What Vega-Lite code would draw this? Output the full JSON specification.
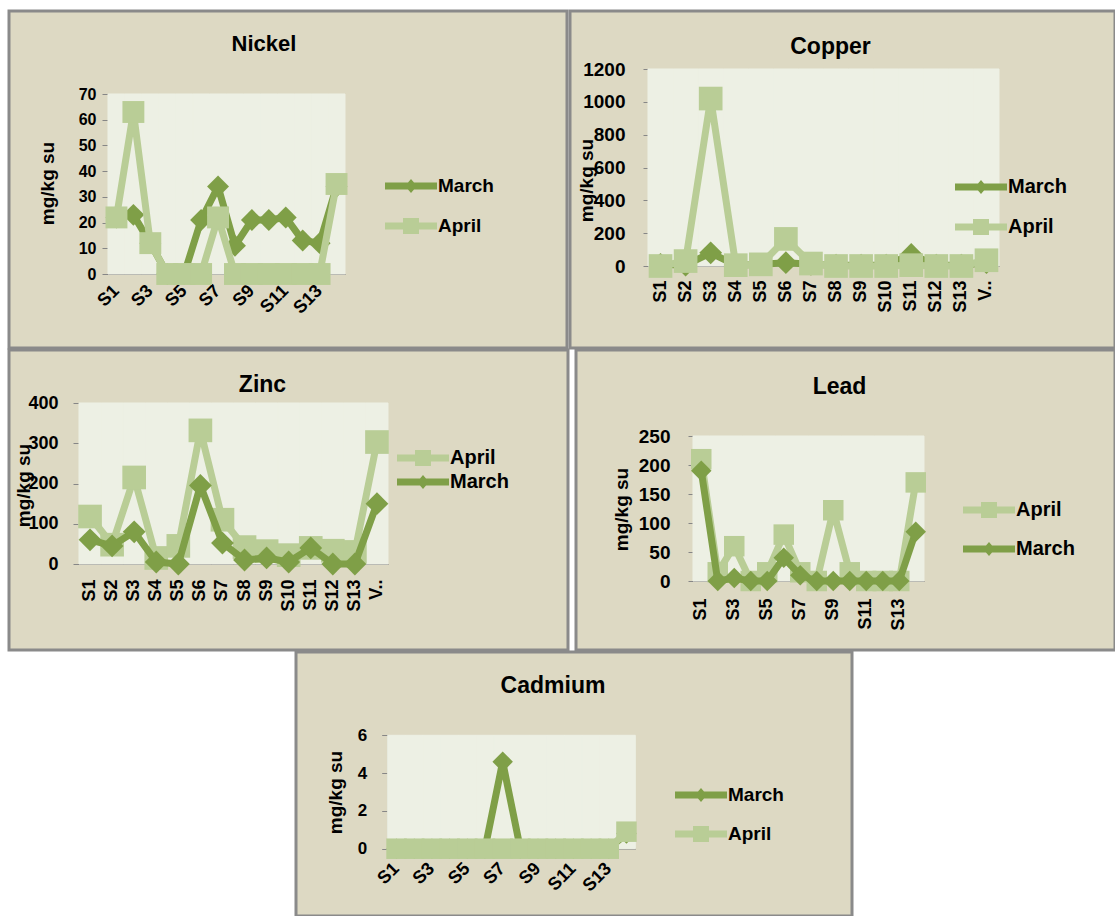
{
  "$schema": "https://vega.github.io/schema/vega-lite/v6.json",
  "background": "#FFFFFF",
  "padding": {"left": 7, "top": 9, "right": 0, "bottom": 0},
  "autosize": {"type": "pad"},
  "spacing": -2,
  "resolve": {"scale": {"color": "independent", "shape": "independent"}, "legend": {"color": "independent", "shape": "independent"}},
  "datasets": {
    "nickel": [
      {"station":"S1","month":"March","value":22},{"station":"S2","month":"March","value":23},{"station":"S3","month":"March","value":12},{"station":"S4","month":"March","value":0},{"station":"S5","month":"March","value":0},{"station":"S6","month":"March","value":21},{"station":"S7","month":"March","value":34},{"station":"S8","month":"March","value":11},{"station":"S9","month":"March","value":21},{"station":"S10","month":"March","value":21},{"station":"S11","month":"March","value":22},{"station":"S12","month":"March","value":13},{"station":"S13","month":"March","value":12},{"station":"V..","month":"March","value":34},
      {"station":"S1","month":"April","value":22},{"station":"S2","month":"April","value":63},{"station":"S3","month":"April","value":12},{"station":"S4","month":"April","value":0},{"station":"S5","month":"April","value":0},{"station":"S6","month":"April","value":0},{"station":"S7","month":"April","value":22},{"station":"S8","month":"April","value":0},{"station":"S9","month":"April","value":0},{"station":"S10","month":"April","value":0},{"station":"S11","month":"April","value":0},{"station":"S12","month":"April","value":0},{"station":"S13","month":"April","value":0},{"station":"V..","month":"April","value":35}
    ],
    "copper": [
      {"station":"S1","month":"March","value":10},{"station":"S2","month":"March","value":5},{"station":"S3","month":"March","value":80},{"station":"S4","month":"March","value":5},{"station":"S5","month":"March","value":10},{"station":"S6","month":"March","value":20},{"station":"S7","month":"March","value":10},{"station":"S8","month":"March","value":5},{"station":"S9","month":"March","value":5},{"station":"S10","month":"March","value":5},{"station":"S11","month":"March","value":70},{"station":"S12","month":"March","value":5},{"station":"S13","month":"March","value":5},{"station":"V..","month":"March","value":20},
      {"station":"S1","month":"April","value":0},{"station":"S2","month":"April","value":30},{"station":"S3","month":"April","value":1020},{"station":"S4","month":"April","value":5},{"station":"S5","month":"April","value":10},{"station":"S6","month":"April","value":165},{"station":"S7","month":"April","value":15},{"station":"S8","month":"April","value":0},{"station":"S9","month":"April","value":0},{"station":"S10","month":"April","value":0},{"station":"S11","month":"April","value":5},{"station":"S12","month":"April","value":0},{"station":"S13","month":"April","value":0},{"station":"V..","month":"April","value":35}
    ],
    "zinc": [
      {"station":"S1","month":"April","value":118},{"station":"S2","month":"April","value":48},{"station":"S3","month":"April","value":215},{"station":"S4","month":"April","value":15},{"station":"S5","month":"April","value":45},{"station":"S6","month":"April","value":332},{"station":"S7","month":"April","value":110},{"station":"S8","month":"April","value":42},{"station":"S9","month":"April","value":32},{"station":"S10","month":"April","value":22},{"station":"S11","month":"April","value":40},{"station":"S12","month":"April","value":33},{"station":"S13","month":"April","value":30},{"station":"V..","month":"April","value":303},
      {"station":"S1","month":"March","value":60},{"station":"S2","month":"March","value":45},{"station":"S3","month":"March","value":80},{"station":"S4","month":"March","value":5},{"station":"S5","month":"March","value":0},{"station":"S6","month":"March","value":195},{"station":"S7","month":"March","value":52},{"station":"S8","month":"March","value":10},{"station":"S9","month":"March","value":15},{"station":"S10","month":"March","value":5},{"station":"S11","month":"March","value":40},{"station":"S12","month":"March","value":0},{"station":"S13","month":"March","value":0},{"station":"V..","month":"March","value":150}
    ],
    "lead": [
      {"station":"S1","month":"April","value":210},{"station":"S2","month":"April","value":15},{"station":"S3","month":"April","value":60},{"station":"S4","month":"April","value":0},{"station":"S5","month":"April","value":15},{"station":"S6","month":"April","value":80},{"station":"S7","month":"April","value":15},{"station":"S8","month":"April","value":0},{"station":"S9","month":"April","value":122},{"station":"S10","month":"April","value":15},{"station":"S11","month":"April","value":0},{"station":"S12","month":"April","value":0},{"station":"S13","month":"April","value":0},{"station":"V..","month":"April","value":170},
      {"station":"S1","month":"March","value":190},{"station":"S2","month":"March","value":0},{"station":"S3","month":"March","value":5},{"station":"S4","month":"March","value":0},{"station":"S5","month":"March","value":0},{"station":"S6","month":"March","value":40},{"station":"S7","month":"March","value":10},{"station":"S8","month":"March","value":0},{"station":"S9","month":"March","value":0},{"station":"S10","month":"March","value":0},{"station":"S11","month":"March","value":0},{"station":"S12","month":"March","value":0},{"station":"S13","month":"March","value":0},{"station":"V..","month":"March","value":85}
    ],
    "cadmium": [
      {"station":"S1","month":"March","value":0},{"station":"S2","month":"March","value":0},{"station":"S3","month":"March","value":0},{"station":"S4","month":"March","value":0},{"station":"S5","month":"March","value":0},{"station":"S6","month":"March","value":0},{"station":"S7","month":"March","value":4.6},{"station":"S8","month":"March","value":0},{"station":"S9","month":"March","value":0},{"station":"S10","month":"March","value":0},{"station":"S11","month":"March","value":0},{"station":"S12","month":"March","value":0},{"station":"S13","month":"March","value":0},{"station":"V..","month":"March","value":0.8},
      {"station":"S1","month":"April","value":0},{"station":"S2","month":"April","value":0},{"station":"S3","month":"April","value":0},{"station":"S4","month":"April","value":0},{"station":"S5","month":"April","value":0},{"station":"S6","month":"April","value":0},{"station":"S7","month":"April","value":0},{"station":"S8","month":"April","value":0},{"station":"S9","month":"April","value":0},{"station":"S10","month":"April","value":0},{"station":"S11","month":"April","value":0},{"station":"S12","month":"April","value":0},{"station":"S13","month":"April","value":0},{"station":"V..","month":"April","value":0.9}
    ]
  },
  "vconcat": [
    {
      "spacing": 3,
      "bounds": "flush",
      "resolve": {"scale": {"color": "independent", "shape": "independent"}, "legend": {"color": "independent", "shape": "independent"}},
      "hconcat": [
        {
          "width": 558, "height": 337,
          "title": {"text": "Nickel", "frame": "group", "anchor": "middle", "dx": -24, "offset": -45, "fontSize": 22},
          "data": {"name": "nickel"},
          "encoding": {
            "x": {"field": "station", "type": "nominal", "sort": ["S1","S2","S3","S4","S5","S6","S7","S8","S9","S10","S11","S12","S13","V.."],
              "scale": {"type": "band", "range": [99, 336], "paddingInner": 0, "paddingOuter": 0},
              "axis": {"title": null, "ticks": false, "tickSize": 0, "offset": -74, "values": ["S1","S3","S5","S7","S9","S11","S13"], "labelAngle": -45, "labelAlign": "right", "labelBaseline": "middle", "labelFontSize": 18, "labelPadding": 14}},
            "y": {"field": "value", "type": "quantitative", "title": "mg/kg su",
              "scale": {"domain": [0, 70], "range": [263, 83], "nice": false, "zero": false},
              "axis": {"offset": -99, "values": [0,10,20,30,40,50,60,70], "format": "d", "tickSize": 6, "labelPadding": 6, "labelFontSize": 16, "titleFontSize": 19, "titleX": -61, "titleY": 172, "titleAngle": -90, "titleAlign": "center", "titleBaseline": "middle"}}
          },
          "layer": [
            {"transform": [{"filter": "datum.month === 'March'"}], "mark": {"type": "bar", "color": "#EDF0E4", "stroke": "#EDF0E4", "strokeWidth": 1}, "encoding": {"y": {"datum": 70, "type": "quantitative", "title": "mg/kg su"}, "y2": {"datum": 0}}},
            {"transform": [{"filter": "datum.month === 'March'"}], "mark": {"type": "line", "color": "#7F9F47", "strokeWidth": 7, "strokeJoin": "round", "strokeCap": "round"}},
            {"transform": [{"filter": "datum.month === 'March'"}], "mark": {"type": "point", "shape": "diamond", "filled": true, "size": 480, "opacity": 1, "color": "#7F9F47"}},
            {"transform": [{"filter": "datum.month === 'April'"}], "mark": {"type": "line", "color": "#B9CD96", "strokeWidth": 7, "strokeJoin": "round", "strokeCap": "round"}},
            {"transform": [{"filter": "datum.month === 'April'"}], "mark": {"type": "point", "shape": "square", "filled": true, "size": 480, "opacity": 1, "color": "#B9CD96"}},
            {"mark": {"type": "point", "filled": true, "opacity": 0},
              "encoding": {
                "color": {"field": "month", "type": "nominal", "scale": {"domain": ["March","April"], "range": ["#7F9F47","#B9CD96"]},
                  "legend": {"orient": "none", "legendX": 392, "legendY": 165, "title": null, "padding": 0, "symbolSize": 400, "symbolOpacity": 1, "symbolStrokeWidth": 0, "labelOffset": 17, "rowPadding": 20, "labelFontSize": 19, "labelFontWeight": "bold", "labelColor": "#000000", "labelFont": "Liberation Sans"}},
                "shape": {"field": "month", "type": "nominal", "scale": {"domain": ["March","April"], "range": ["M-2.6,-0.35L2.6,-0.35L2.6,0.35L-2.6,0.35Z M0,-0.7L0.6,0L0,0.7L-0.6,0Z", "M-2.6,-0.35L2.6,-0.35L2.6,0.35L-2.6,0.35Z M-0.8,-0.8L0.8,-0.8L0.8,0.8L-0.8,0.8Z"]},
                  "legend": {"orient": "none", "legendX": 392, "legendY": 165, "title": null, "padding": 0, "symbolSize": 400, "symbolOpacity": 1, "symbolStrokeWidth": 0, "labelOffset": 17, "rowPadding": 20, "labelFontSize": 19, "labelFontWeight": "bold", "labelColor": "#000000", "labelFont": "Liberation Sans"}}
              }}
          ]
        },
        {
          "width": 545, "height": 337,
          "title": {"text": "Copper", "frame": "group", "anchor": "middle", "dx": -12, "offset": -48, "fontSize": 23},
          "data": {"name": "copper"},
          "encoding": {
            "x": {"field": "station", "type": "nominal", "sort": ["S1","S2","S3","S4","S5","S6","S7","S8","S9","S10","S11","S12","S13","V.."],
              "scale": {"type": "band", "range": [78, 429], "paddingInner": 0, "paddingOuter": 0},
              "axis": {"title": null, "ticks": false, "tickSize": 0, "offset": -82, "labelAngle": -90, "labelAlign": "right", "labelBaseline": "middle", "labelFontSize": 18, "labelPadding": 14}},
            "y": {"field": "value", "type": "quantitative", "title": "mg/kg su",
              "scale": {"domain": [0, 1200], "range": [255, 58], "nice": false, "zero": false},
              "axis": {"offset": -78, "values": [0,200,400,600,800,1000,1200], "format": "d", "tickSize": 5, "labelPadding": 18, "labelFontSize": 19, "titleFontSize": 19, "titleX": -62, "titleY": 169, "titleAngle": -90, "titleAlign": "center", "titleBaseline": "middle"}}
          },
          "layer": [
            {"transform": [{"filter": "datum.month === 'March'"}], "mark": {"type": "bar", "color": "#EDF0E4", "stroke": "#EDF0E4", "strokeWidth": 1}, "encoding": {"y": {"datum": 1200, "type": "quantitative", "title": "mg/kg su"}, "y2": {"datum": 0}}},
            {"transform": [{"filter": "datum.month === 'March'"}], "mark": {"type": "line", "color": "#7F9F47", "strokeWidth": 7, "strokeJoin": "round", "strokeCap": "round"}},
            {"transform": [{"filter": "datum.month === 'March'"}], "mark": {"type": "point", "shape": "diamond", "filled": true, "size": 520, "opacity": 1, "color": "#7F9F47"}},
            {"transform": [{"filter": "datum.month === 'April'"}], "mark": {"type": "line", "color": "#B9CD96", "strokeWidth": 7, "strokeJoin": "round", "strokeCap": "round"}},
            {"transform": [{"filter": "datum.month === 'April'"}], "mark": {"type": "point", "shape": "square", "filled": true, "size": 560, "opacity": 1, "color": "#B9CD96"}},
            {"mark": {"type": "point", "filled": true, "opacity": 0},
              "encoding": {
                "color": {"field": "month", "type": "nominal", "scale": {"domain": ["March","April"], "range": ["#7F9F47","#B9CD96"]},
                  "legend": {"orient": "none", "legendX": 401, "legendY": 166, "title": null, "padding": 0, "symbolSize": 400, "symbolOpacity": 1, "symbolStrokeWidth": 0, "labelOffset": 17, "rowPadding": 20, "labelFontSize": 20, "labelFontWeight": "bold", "labelColor": "#000000", "labelFont": "Liberation Sans"}},
                "shape": {"field": "month", "type": "nominal", "scale": {"domain": ["March","April"], "range": ["M-2.6,-0.35L2.6,-0.35L2.6,0.35L-2.6,0.35Z M0,-0.7L0.6,0L0,0.7L-0.6,0Z", "M-2.6,-0.35L2.6,-0.35L2.6,0.35L-2.6,0.35Z M-0.8,-0.8L0.8,-0.8L0.8,0.8L-0.8,0.8Z"]},
                  "legend": {"orient": "none", "legendX": 401, "legendY": 166, "title": null, "padding": 0, "symbolSize": 400, "symbolOpacity": 1, "symbolStrokeWidth": 0, "labelOffset": 17, "rowPadding": 20, "labelFontSize": 20, "labelFontWeight": "bold", "labelColor": "#000000", "labelFont": "Liberation Sans"}}
              }}
          ]
        }
      ]
    },
    {
      "spacing": 8,
      "bounds": "flush",
      "resolve": {"scale": {"color": "independent", "shape": "independent"}, "legend": {"color": "independent", "shape": "independent"}},
      "hconcat": [
        {
          "width": 559, "height": 300,
          "title": {"text": "Zinc", "frame": "group", "anchor": "middle", "dx": -26, "offset": -47, "fontSize": 23},
          "data": {"name": "zinc"},
          "encoding": {
            "x": {"field": "station", "type": "nominal", "sort": ["S1","S2","S3","S4","S5","S6","S7","S8","S9","S10","S11","S12","S13","V.."],
              "scale": {"type": "band", "range": [70, 379], "paddingInner": 0, "paddingOuter": 0},
              "axis": {"title": null, "ticks": false, "tickSize": 0, "offset": -86, "labelAngle": -90, "labelAlign": "right", "labelBaseline": "middle", "labelFontSize": 18, "labelPadding": 15}},
            "y": {"field": "value", "type": "quantitative", "title": "mg/kg su",
              "scale": {"domain": [0, 400], "range": [214, 53], "nice": false, "zero": false},
              "axis": {"offset": -70, "values": [0,100,200,300,400], "format": "d", "tickSize": 6, "labelPadding": 15, "labelFontSize": 18, "titleFontSize": 19, "titleX": -56, "titleY": 135, "titleAngle": -90, "titleAlign": "center", "titleBaseline": "middle"}}
          },
          "layer": [
            {"transform": [{"filter": "datum.month === 'March'"}], "mark": {"type": "bar", "color": "#EDF0E4", "stroke": "#EDF0E4", "strokeWidth": 1}, "encoding": {"y": {"datum": 400, "type": "quantitative", "title": "mg/kg su"}, "y2": {"datum": 0}}},
            {"transform": [{"filter": "datum.month === 'April'"}], "mark": {"type": "line", "color": "#B9CD96", "strokeWidth": 7, "strokeJoin": "round", "strokeCap": "round"}},
            {"transform": [{"filter": "datum.month === 'April'"}], "mark": {"type": "point", "shape": "square", "filled": true, "size": 560, "opacity": 1, "color": "#B9CD96"}},
            {"transform": [{"filter": "datum.month === 'March'"}], "mark": {"type": "line", "color": "#7F9F47", "strokeWidth": 7, "strokeJoin": "round", "strokeCap": "round"}},
            {"transform": [{"filter": "datum.month === 'March'"}], "mark": {"type": "point", "shape": "diamond", "filled": true, "size": 520, "opacity": 1, "color": "#7F9F47"}},
            {"mark": {"type": "point", "filled": true, "opacity": 0},
              "encoding": {
                "color": {"field": "month", "type": "nominal", "scale": {"domain": ["April","March"], "range": ["#B9CD96","#7F9F47"]},
                  "legend": {"orient": "none", "legendX": 404, "legendY": 98, "title": null, "padding": 0, "symbolSize": 400, "symbolOpacity": 1, "symbolStrokeWidth": 0, "labelOffset": 17, "rowPadding": 4, "labelFontSize": 20, "labelFontWeight": "bold", "labelColor": "#000000", "labelFont": "Liberation Sans"}},
                "shape": {"field": "month", "type": "nominal", "scale": {"domain": ["April","March"], "range": ["M-2.6,-0.35L2.6,-0.35L2.6,0.35L-2.6,0.35Z M-0.8,-0.8L0.8,-0.8L0.8,0.8L-0.8,0.8Z", "M-2.6,-0.35L2.6,-0.35L2.6,0.35L-2.6,0.35Z M0,-0.7L0.6,0L0,0.7L-0.6,0Z"]},
                  "legend": {"orient": "none", "legendX": 404, "legendY": 98, "title": null, "padding": 0, "symbolSize": 400, "symbolOpacity": 1, "symbolStrokeWidth": 0, "labelOffset": 17, "rowPadding": 4, "labelFontSize": 20, "labelFontWeight": "bold", "labelColor": "#000000", "labelFont": "Liberation Sans"}}
              }}
          ]
        },
        {
          "width": 539, "height": 300,
          "title": {"text": "Lead", "frame": "group", "anchor": "middle", "dx": -6, "offset": -49, "fontSize": 23},
          "data": {"name": "lead"},
          "encoding": {
            "x": {"field": "station", "type": "nominal", "sort": ["S1","S2","S3","S4","S5","S6","S7","S8","S9","S10","S11","S12","S13","V.."],
              "scale": {"type": "band", "range": [117, 348], "paddingInner": 0, "paddingOuter": 0},
              "axis": {"title": null, "ticks": false, "tickSize": 0, "offset": -69, "values": ["S1","S3","S5","S7","S9","S11","S13"], "labelAngle": -90, "labelAlign": "right", "labelBaseline": "middle", "labelFontSize": 18, "labelPadding": 17}},
            "y": {"field": "value", "type": "quantitative", "title": "mg/kg su",
              "scale": {"domain": [0, 250], "range": [231, 86], "nice": false, "zero": false},
              "axis": {"offset": -117, "values": [0,50,100,150,200,250], "format": "d", "tickSize": 5, "labelPadding": 18, "labelFontSize": 19, "titleFontSize": 19, "titleX": -72, "titleY": 159, "titleAngle": -90, "titleAlign": "center", "titleBaseline": "middle"}}
          },
          "layer": [
            {"transform": [{"filter": "datum.month === 'March'"}], "mark": {"type": "bar", "color": "#EDF0E4", "stroke": "#EDF0E4", "strokeWidth": 1}, "encoding": {"y": {"datum": 250, "type": "quantitative", "title": "mg/kg su"}, "y2": {"datum": 0}}},
            {"transform": [{"filter": "datum.month === 'April'"}], "mark": {"type": "line", "color": "#B9CD96", "strokeWidth": 7, "strokeJoin": "round", "strokeCap": "round"}},
            {"transform": [{"filter": "datum.month === 'April'"}], "mark": {"type": "point", "shape": "square", "filled": true, "size": 420, "opacity": 1, "color": "#B9CD96"}},
            {"transform": [{"filter": "datum.month === 'March'"}], "mark": {"type": "line", "color": "#7F9F47", "strokeWidth": 7, "strokeJoin": "round", "strokeCap": "round"}},
            {"transform": [{"filter": "datum.month === 'March'"}], "mark": {"type": "point", "shape": "diamond", "filled": true, "size": 420, "opacity": 1, "color": "#7F9F47"}},
            {"mark": {"type": "point", "filled": true, "opacity": 0},
              "encoding": {
                "color": {"field": "month", "type": "nominal", "scale": {"domain": ["April","March"], "range": ["#B9CD96","#7F9F47"]},
                  "legend": {"orient": "none", "legendX": 403, "legendY": 150, "title": null, "padding": 0, "symbolSize": 400, "symbolOpacity": 1, "symbolStrokeWidth": 0, "labelOffset": 17, "rowPadding": 19, "labelFontSize": 20, "labelFontWeight": "bold", "labelColor": "#000000", "labelFont": "Liberation Sans"}},
                "shape": {"field": "month", "type": "nominal", "scale": {"domain": ["April","March"], "range": ["M-2.6,-0.35L2.6,-0.35L2.6,0.35L-2.6,0.35Z M-0.8,-0.8L0.8,-0.8L0.8,0.8L-0.8,0.8Z", "M-2.6,-0.35L2.6,-0.35L2.6,0.35L-2.6,0.35Z M0,-0.7L0.6,0L0,0.7L-0.6,0Z"]},
                  "legend": {"orient": "none", "legendX": 403, "legendY": 150, "title": null, "padding": 0, "symbolSize": 400, "symbolOpacity": 1, "symbolStrokeWidth": 0, "labelOffset": 17, "rowPadding": 19, "labelFontSize": 20, "labelFontWeight": "bold", "labelColor": "#000000", "labelFont": "Liberation Sans"}}
              }}
          ]
        }
      ]
    },
    {
      "spacing": 7,
      "bounds": "flush",
      "resolve": {"scale": {"color": "independent", "shape": "independent"}, "legend": {"color": "independent", "shape": "independent"}},
      "hconcat": [
        {"width": 280, "height": 264, "data": {"values": []}, "mark": "point", "view": {"fill": "transparent", "stroke": "transparent", "strokeWidth": 0}},
        {
          "width": 556, "height": 264,
          "title": {"text": "Cadmium", "frame": "group", "anchor": "middle", "dx": -21, "offset": -46, "fontSize": 23},
          "data": {"name": "cadmium"},
          "encoding": {
            "x": {"field": "station", "type": "nominal", "sort": ["S1","S2","S3","S4","S5","S6","S7","S8","S9","S10","S11","S12","S13","V.."],
              "scale": {"type": "band", "range": [91.7, 339.3], "paddingInner": 0, "paddingOuter": 0},
              "axis": {"title": null, "ticks": false, "tickSize": 0, "offset": -67.3, "values": ["S1","S3","S5","S7","S9","S11","S13"], "labelAngle": -45, "labelAlign": "right", "labelBaseline": "middle", "labelFontSize": 18, "labelPadding": 17}},
            "y": {"field": "value", "type": "quantitative", "title": "mg/kg su",
              "scale": {"domain": [0, 6], "range": [196.7, 83.3], "nice": false, "zero": false},
              "axis": {"offset": -91.7, "values": [0,2,4,6], "format": "d", "tickSize": 6, "labelPadding": 15, "labelFontSize": 17, "titleFontSize": 19, "titleX": -52, "titleY": 140, "titleAngle": -90, "titleAlign": "center", "titleBaseline": "middle"}}
          },
          "layer": [
            {"transform": [{"filter": "datum.month === 'March'"}], "mark": {"type": "bar", "color": "#EDF0E4", "stroke": "#EDF0E4", "strokeWidth": 1}, "encoding": {"y": {"datum": 6, "type": "quantitative", "title": "mg/kg su"}, "y2": {"datum": 0}}},
            {"transform": [{"filter": "datum.month === 'March'"}], "mark": {"type": "line", "color": "#7F9F47", "strokeWidth": 7, "strokeJoin": "round", "strokeCap": "round"}},
            {"transform": [{"filter": "datum.month === 'March'"}], "mark": {"type": "point", "shape": "diamond", "filled": true, "size": 420, "opacity": 1, "color": "#7F9F47"}},
            {"transform": [{"filter": "datum.month === 'April'"}], "mark": {"type": "line", "color": "#B9CD96", "strokeWidth": 7, "strokeJoin": "round", "strokeCap": "round"}},
            {"transform": [{"filter": "datum.month === 'April'"}], "mark": {"type": "point", "shape": "square", "filled": true, "size": 420, "opacity": 1, "color": "#B9CD96"}},
            {"mark": {"type": "point", "filled": true, "opacity": 0},
              "encoding": {
                "color": {"field": "month", "type": "nominal", "scale": {"domain": ["March","April"], "range": ["#7F9F47","#B9CD96"]},
                  "legend": {"orient": "none", "legendX": 395, "legendY": 133, "title": null, "padding": 0, "symbolSize": 400, "symbolOpacity": 1, "symbolStrokeWidth": 0, "labelOffset": 17, "rowPadding": 19, "labelFontSize": 19, "labelFontWeight": "bold", "labelColor": "#000000", "labelFont": "Liberation Sans"}},
                "shape": {"field": "month", "type": "nominal", "scale": {"domain": ["March","April"], "range": ["M-2.6,-0.35L2.6,-0.35L2.6,0.35L-2.6,0.35Z M0,-0.7L0.6,0L0,0.7L-0.6,0Z", "M-2.6,-0.35L2.6,-0.35L2.6,0.35L-2.6,0.35Z M-0.8,-0.8L0.8,-0.8L0.8,0.8L-0.8,0.8Z"]},
                  "legend": {"orient": "none", "legendX": 395, "legendY": 133, "title": null, "padding": 0, "symbolSize": 400, "symbolOpacity": 1, "symbolStrokeWidth": 0, "labelOffset": 17, "rowPadding": 19, "labelFontSize": 19, "labelFontWeight": "bold", "labelColor": "#000000", "labelFont": "Liberation Sans"}}
              }}
          ]
        }
      ]
    }
  ],
  "config": {
    "font": "Liberation Sans",
    "view": {"fill": "#DDD9C3", "stroke": "#8A8A8A", "strokeWidth": 3},
    "axis": {"labelFont": "Liberation Sans", "labelFontWeight": "bold", "labelColor": "#000000", "titleFont": "Liberation Sans", "titleFontWeight": "bold", "titleColor": "#000000", "domainColor": "#868686", "tickColor": "#868686", "domainWidth": 1, "grid": false},
    "title": {"font": "Liberation Sans", "fontWeight": "bold", "color": "#000000"}
  }
}
